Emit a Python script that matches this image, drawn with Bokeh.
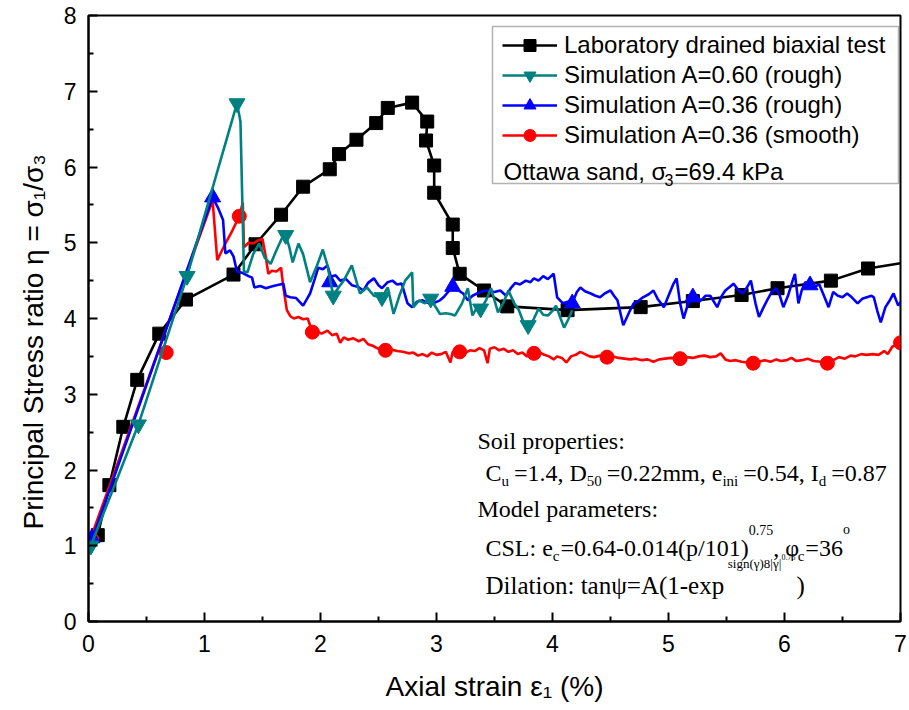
from bokeh.plotting import figure
from bokeh.models import Range1d, Label, BoxAnnotation, Legend, LegendItem, FixedTicker
from bokeh.embed import file_html
from bokeh.resources import INLINE

# ---------------- data ----------------
lab_x = [0.08, 0.18, 0.30, 0.42, 0.61, 0.84, 1.25, 1.44, 1.66, 1.85, 2.08, 2.16, 2.31, 2.48,
         2.58, 2.79, 2.92, 2.91, 2.98, 2.98, 3.14, 3.14, 3.20, 3.41, 3.61, 4.13, 4.76, 5.21,
         5.63, 5.94, 6.40, 6.72, 7.00]
lab_y = [1.14, 1.80, 2.57, 3.19, 3.80, 4.25, 4.58, 4.98, 5.37, 5.74, 5.97, 6.17, 6.36, 6.58,
         6.78, 6.85, 6.60, 6.35, 6.02, 5.66, 5.24, 4.93, 4.59, 4.37, 4.16, 4.11, 4.15, 4.23,
         4.31, 4.40, 4.50, 4.66, 4.73]

teal_x = [0.00, 0.43, 0.85, 1.28, 1.31, 1.34, 1.37, 1.42, 1.47, 1.52, 1.57, 1.62, 1.67, 1.70,
          1.73, 1.76, 1.81, 1.85, 1.91, 1.97, 2.02, 2.06, 2.09, 2.11, 2.16, 2.20, 2.27, 2.34,
          2.40, 2.46, 2.53, 2.58, 2.63, 2.68, 2.73, 2.79, 2.80, 2.85, 2.90, 2.95, 3.03, 3.08,
          3.12, 3.16, 3.22, 3.27, 3.31, 3.35, 3.38, 3.43, 3.47, 3.53, 3.58, 3.62, 3.67, 3.71,
          3.75, 3.79, 3.84, 3.88, 3.92, 3.96, 4.00, 4.03, 4.07, 4.10, 4.14, 4.17]
teal_y = [0.92, 2.60, 4.56, 6.84, 6.60, 4.62, 4.61, 4.85, 4.99, 4.80, 4.72, 4.90, 5.07, 5.10,
          4.95, 4.74, 4.99, 4.85, 4.48, 4.70, 4.91, 4.70, 4.46, 4.30, 4.42, 4.50, 4.70, 4.33,
          4.41, 4.30, 4.28, 4.41, 4.06, 4.30, 4.50, 4.61, 4.15, 4.24, 4.20, 4.26, 4.06, 4.07,
          4.06, 4.04, 4.20, 4.40, 4.04, 4.15, 4.11, 4.25, 4.40, 4.08, 4.22, 4.37, 4.20, 4.11,
          3.95, 3.84, 4.00, 4.13, 4.05, 4.04, 4.10, 4.17, 4.00, 3.88, 4.00, 4.11]
teal_mx = [0.02, 0.43, 0.85, 1.28, 1.70, 2.11, 2.53, 2.95, 3.38, 3.79]
teal_my = [1.00, 2.60, 4.56, 6.84, 5.10, 4.30, 4.28, 4.26, 4.13, 3.91]

blue_x = [0.03, 1.07, 1.12, 1.16, 1.18, 1.22, 1.25, 1.28, 1.33, 1.38, 1.41, 1.43, 1.48, 1.53,
          1.57, 1.62, 1.68, 1.70, 1.74, 1.79, 1.82, 1.85, 1.88, 1.91, 1.95, 1.98, 2.02, 2.06,
          2.09, 2.13, 2.17, 2.22, 2.27, 2.32, 2.37, 2.41, 2.46, 2.50, 2.53, 2.58, 2.62, 2.66,
          2.70, 2.75, 2.79, 2.83, 2.88, 2.92, 2.97, 3.03, 3.06, 3.10, 3.14, 3.19, 3.23, 3.27,
          3.31, 3.35, 3.40, 3.44, 3.50, 3.55, 3.60, 3.64, 3.68, 3.72, 3.77, 3.81, 3.84, 3.88,
          3.92, 3.96, 4.01, 4.04, 4.09, 4.13, 4.17, 4.21, 4.24, 4.28, 4.33, 4.37, 4.41, 4.45,
          4.50, 4.53, 4.56, 4.61, 4.66, 4.70, 4.74, 4.78, 4.83, 4.87, 4.91, 4.96, 5.00, 5.04,
          5.07, 5.10, 5.13, 5.17, 5.21, 5.25, 5.28, 5.32, 5.36, 5.40, 5.42, 5.46, 5.49, 5.53,
          5.56, 5.60, 5.64, 5.68, 5.71, 5.75, 5.78, 5.82, 5.85, 5.89, 5.93, 5.96, 5.99, 6.03,
          6.07, 6.09, 6.12, 6.15, 6.18, 6.22, 6.26, 6.30, 6.34, 6.38, 6.42, 6.46, 6.50, 6.54,
          6.58, 6.63, 6.67, 6.71, 6.75, 6.77, 6.80, 6.83, 6.87, 6.90, 6.94, 6.98, 7.00]
blue_y = [1.08, 5.60, 5.45, 5.30, 4.86, 4.90, 4.82, 4.62, 4.60, 4.56, 4.54, 4.41, 4.43, 4.40,
          4.42, 4.44, 4.46, 4.30, 4.28, 4.27, 4.22, 4.17, 4.25, 4.33, 4.52, 4.67, 4.65, 4.70,
          4.55, 4.57, 4.50, 4.52, 4.44, 4.42, 4.37, 4.47, 4.53, 4.44, 4.40, 4.48, 4.50, 4.45,
          4.46, 4.20, 4.15, 4.22, 4.24, 4.21, 4.20, 4.24, 4.28, 4.35, 4.42, 4.37, 4.33, 4.24,
          4.30, 4.33, 4.36, 4.37, 4.35, 4.37, 4.30, 4.40, 4.47, 4.45, 4.50, 4.48, 4.53, 4.50,
          4.56, 4.52, 4.59, 4.28, 4.20, 4.22, 4.20, 4.35, 4.41, 4.36, 4.33, 4.30, 4.28, 4.33,
          4.37, 4.30, 4.24, 3.91, 4.08, 4.20, 4.23, 4.28, 4.32, 4.37, 4.25, 4.15, 4.30, 4.45,
          4.53, 4.20, 4.00, 4.20, 4.28, 4.27, 4.24, 4.30, 4.30, 4.20, 4.15, 4.30, 4.37, 4.42,
          4.46, 4.38, 4.33, 4.42, 4.50, 4.20, 4.02, 4.15, 4.24, 4.35, 4.40, 4.30, 4.15, 4.30,
          4.50, 4.59, 4.20, 4.38, 4.48, 4.44, 4.42, 4.45, 4.30, 4.15, 4.35, 4.30, 4.28, 4.33,
          4.28, 4.20, 4.26, 4.28, 4.30, 4.28, 4.10, 3.95, 4.15, 4.22, 4.33, 4.17, 4.22]
blue_mx = [0.03, 1.07, 2.08, 3.14, 4.17, 5.21, 6.22]
blue_my = [1.10, 5.60, 4.48, 4.42, 4.20, 4.28, 4.44]

red_x = [0.00, 1.07, 1.11, 1.18, 1.24, 1.30, 1.33, 1.34, 1.38, 1.42, 1.46, 1.50, 1.53, 1.55,
         1.58, 1.62, 1.66, 1.68, 1.71, 1.74, 1.77, 1.81, 1.85, 1.89, 1.93, 1.97, 2.01, 2.06,
         2.10, 2.14, 2.17, 2.20, 2.24, 2.28, 2.33, 2.37, 2.41, 2.45, 2.50, 2.56, 2.61, 2.66,
         2.71, 2.76, 2.80, 2.84, 2.88, 2.92, 2.96, 3.00, 3.04, 3.08, 3.12, 3.14, 3.20, 3.25,
         3.29, 3.33, 3.37, 3.41, 3.44, 3.46, 3.50, 3.54, 3.58, 3.62, 3.66, 3.70, 3.74, 3.78,
         3.84, 3.88, 3.93, 3.97, 4.01, 4.04, 4.08, 4.12, 4.16, 4.20, 4.24, 4.28, 4.32, 4.36,
         4.41, 4.47, 4.52, 4.57, 4.62, 4.67, 4.72, 4.77, 4.82, 4.87, 4.92, 4.97, 5.02, 5.06,
         5.10, 5.16, 5.21, 5.26, 5.31, 5.36, 5.41, 5.45, 5.49, 5.53, 5.58, 5.63, 5.68, 5.73,
         5.78, 5.83, 5.88, 5.93, 5.97, 6.02, 6.06, 6.10, 6.15, 6.20, 6.25, 6.31, 6.37, 6.42,
         6.47, 6.52, 6.57, 6.61, 6.66, 6.71, 6.76, 6.81, 6.86, 6.89, 6.93, 6.97, 7.00]
red_y = [1.02, 5.56, 4.77, 4.99, 5.16, 5.35, 5.53, 4.94, 5.00, 4.99, 5.03, 5.05, 4.80, 4.59,
         4.63, 4.62, 4.67, 4.41, 4.11, 4.03, 4.00, 4.02, 3.99, 4.00, 3.82, 3.83, 3.80, 3.84,
         3.78, 3.80, 3.68, 3.75, 3.72, 3.74, 3.70, 3.73, 3.66, 3.64, 3.60, 3.58, 3.59, 3.57,
         3.56, 3.54, 3.55, 3.51, 3.53, 3.50, 3.55, 3.52, 3.53, 3.56, 3.42, 3.56, 3.56, 3.55,
         3.58, 3.57, 3.61, 3.58, 3.41, 3.60, 3.62, 3.58, 3.60, 3.56, 3.58, 3.53, 3.55, 3.50,
         3.54, 3.56, 3.52, 3.50, 3.46, 3.50, 3.48, 3.42, 3.50, 3.52, 3.56, 3.53, 3.50, 3.49,
         3.51, 3.49, 3.50, 3.48, 3.47, 3.46, 3.47, 3.45, 3.46, 3.43, 3.46, 3.47, 3.48, 3.47,
         3.47, 3.49, 3.48, 3.50, 3.51, 3.49, 3.50, 3.54, 3.46, 3.44, 3.45, 3.43, 3.42, 3.41,
         3.43, 3.45, 3.43, 3.46, 3.44, 3.45, 3.48, 3.44, 3.45, 3.47, 3.44, 3.43, 3.41, 3.45,
         3.49, 3.47, 3.51, 3.50, 3.53, 3.52, 3.53, 3.52, 3.57, 3.53, 3.63, 3.65, 3.68]
red_mx = [0.03, 0.67, 1.30, 1.93, 2.56, 3.20, 3.84, 4.47, 5.10, 5.73, 6.37, 7.00]
red_my = [1.08, 3.55, 5.35, 3.82, 3.58, 3.56, 3.54, 3.49, 3.47, 3.41, 3.41, 3.68]

x_ticks = [0, 1, 2, 3, 4, 5, 6, 7]
x_minor = [0.5, 1.5, 2.5, 3.5, 4.5, 5.5, 6.5]
y_ticks = [0, 1, 2, 3, 4, 5, 6, 7, 8]
y_minor = [0.5, 1.5, 2.5, 3.5, 4.5, 5.5, 6.5, 7.5]

series_labels = ["Laboratory drained biaxial test", "Simulation A=0.60 (rough)",
                 "Simulation A=0.36 (rough)", "Simulation A=0.36 (smooth)"]

SANS = "Liberation Sans"
SERIF = "Liberation Serif"

# ---------------- figure ----------------
p = figure(frame_width=812, frame_height=606, output_backend="svg", toolbar_location=None,
           x_range=Range1d(0, 7), y_range=Range1d(0, 8),
           min_border_left=88, min_border_right=8, min_border_top=15, min_border_bottom=88,
           background_fill_color="white", border_fill_color="white")
p.grid.visible = False
p.outline_line_color = "black"
p.outline_line_width = 2

for ax, maj, mnr in ((p.xaxis[0], x_ticks, x_minor), (p.yaxis[0], y_ticks, y_minor)):
    ax.ticker = FixedTicker(ticks=maj, minor_ticks=mnr)
    ax.major_tick_in = 9
    ax.major_tick_out = 0
    ax.minor_tick_in = 5
    ax.minor_tick_out = 0
    ax.axis_line_width = 2
    ax.major_tick_line_width = 2
    ax.minor_tick_line_width = 2
    ax.major_label_text_font = SANS
    ax.major_label_text_font_size = "23px"
    ax.major_label_text_color = "black"
    ax.axis_label_text_font = SANS
    ax.axis_label_text_font_size = "28px"
    ax.axis_label_text_font_style = "normal"
    ax.axis_label_text_color = "black"

p.xaxis.major_label_standoff = 13
p.xaxis.axis_label_standoff = 16
p.yaxis.major_label_standoff = 12
p.yaxis.axis_label_standoff = 12
p.xaxis.axis_label = "Axial strain ε₁ (%)"
# trailing no-break spaces nudge the centred title down, as in the reference
p.yaxis.axis_label = "Principal Stress ratio η = σ₁/σ₃" + "\u00a0" * 6

# ---------------- series ----------------
LW = 2.6
l_lab = p.line(lab_x, lab_y, line_color="black", line_width=LW)
m_lab = p.scatter(lab_x[:-1], lab_y[:-1], marker="square", size=13, color="black")

l_red = p.line(red_x, red_y, line_color="#FF0000", line_width=LW)
m_red = p.scatter(red_mx, red_my, marker="circle", size=14, color="#FF0000")

l_blue = p.line(blue_x, blue_y, line_color="#0000FF", line_width=LW)
m_blue = p.scatter(blue_mx, blue_my, marker="triangle", size=16, color="#0000FF")

l_teal = p.line(teal_x, teal_y, line_color="#008080", line_width=LW)
m_teal = p.scatter(teal_mx, teal_my, marker="inverted_triangle", size=16, color="#008080")

# ---------------- helpers (page pixel -> data coordinates) ----------------
def X(px):
    return (px - 88) / 116.0

def Y(py):
    return (621 - py) / 75.75


def seg_label(text, px, py, size, font):
    return Label(x=X(px), y=Y(py), text=text, text_font=font, text_font_size=f"{size}px",
                 text_color="black", text_baseline="alphabetic", text_align="left")

# ---------------- legend ----------------
box = BoxAnnotation(left=X(492), right=X(898), top=Y(26), bottom=Y(183),
                    fill_color="white", fill_alpha=1.0, line_color="black", line_width=1.5)
p.add_layout(box)

legend = Legend(items=[
    LegendItem(label=series_labels[0], renderers=[l_lab, m_lab]),
    LegendItem(label=series_labels[1], renderers=[l_teal, m_teal]),
    LegendItem(label=series_labels[2], renderers=[l_blue, m_blue]),
    LegendItem(label=series_labels[3], renderers=[l_red, m_red]),
], location=(414, 471), padding=0, margin=0, spacing=0,
    glyph_width=55, glyph_height=30, label_height=30, label_standoff=7,
    label_text_font=SANS, label_text_font_size="24px", label_text_color="black",
    background_fill_alpha=0.0, border_line_alpha=0.0)
p.add_layout(legend)

# Ottawa sand line in the legend box
p.add_layout(seg_label("Ottawa sand, σ", 503, 171, 24, SANS))
p.add_layout(seg_label("3", 664, 179, 16, SANS))
p.add_layout(seg_label("=69.4 kPa", 674, 171, 24, SANS))

# ---------------- annotation block (rich text laid out by segments) ----------------
TW = {' ': 250, '(': 333, ')': 333, ',': 250, '-': 333, '.': 250, '/': 278, ':': 278,
      '=': 564, '|': 200, 'A': 722, 'C': 667, 'D': 722, 'I': 333, 'L': 611, 'M': 889,
      'S': 556, 'a': 444, 'c': 444, 'd': 500, 'e': 444, 'g': 500, 'i': 278, 'l': 278,
      'm': 778, 'n': 500, 'o': 500, 'p': 500, 'r': 333, 's': 389, 't': 278, 'u': 500,
      'x': 500, 'φ': 521, 'ψ': 686, 'γ': 450}


def twidth(text, size):
    return sum(TW.get(ch, 500) for ch in text) * size / 1000.0


def rich(segs, x0, base):
    x = x0
    for text, size, dy, gap in segs:
        p.add_layout(seg_label(text, x, base + dy, size, SERIF))
        x += twidth(text, size) + gap

rich([("Soil properties:", 24, 0, 0)], 477, 440)
rich([("C", 24, 0, 0), ("u", 15, 8, 5), ("=1.4, D", 24, 0, 0), ("50", 15, 8, 5),
      ("=0.22mm, e", 24, 0, 0), ("ini", 15, 8, 5), ("=0.54, I", 24, 0, 0), ("d", 15, 8, 5),
      ("=0.87", 24, 0, 0)], 485, 472)
rich([("Model parameters:", 24, 0, 0)], 477, 508)
rich([("CSL: e", 24, 0, 0), ("c", 15, 8, 1), ("=0.64-0.014(p/101)", 24, 0, 0),
      ("0.75", 14, -18, 0), (", φ", 24, 0, 0), ("c", 15, 8, 1), ("=36", 24, 0, 0),
      ("o", 14, -18, 0)], 485, 547)
rich([("Dilation: tanψ=A(1-exp", 25, 0, 2), ("sign(γ)8|γ|", 13, -22, 0),
      ("0.75", 8, -29, 1), (")", 25, 0, 0)], 485, 585)

open("out.html", "w").write(file_html(p, INLINE))
